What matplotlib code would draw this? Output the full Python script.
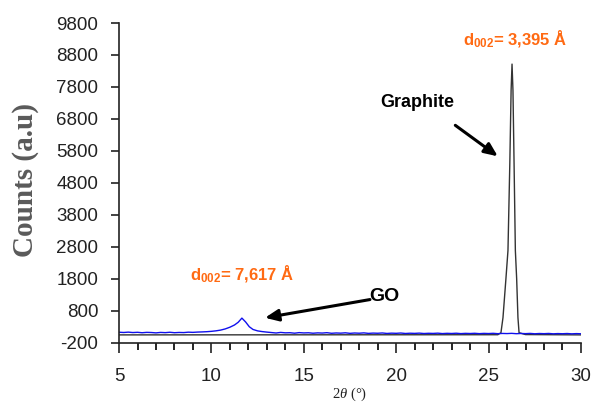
import matplotlib
matplotlib.use("Agg")
import matplotlib.pyplot as plt
from matplotlib.ticker import MultipleLocator

# GO pattern (blue)
go_2theta = [5.0, 5.25, 5.5, 5.75, 6.0, 6.25, 6.5, 6.75, 7.0, 7.25, 7.5, 7.75, 8.0, 8.25,
             8.5, 8.75, 9.0, 9.25, 9.5, 9.75, 10.0, 10.25, 10.5, 10.75, 11.0, 11.25, 11.45,
             11.65, 11.85, 12.05, 12.25, 12.5, 12.75, 13.0, 13.25, 13.5, 13.75, 14.0, 14.25,
             14.5, 14.75, 15.0, 15.25, 15.5, 15.75, 16.0, 16.25, 16.5, 16.75, 17.0, 17.25,
             17.5, 17.75, 18.0, 18.25, 18.5, 18.75, 19.0, 19.25, 19.5, 19.75, 20.0, 20.25,
             20.5, 20.75, 21.0, 21.25, 21.5, 21.75, 22.0, 22.25, 22.5, 22.75, 23.0, 23.25,
             23.5, 23.75, 24.0, 24.25, 24.5, 24.75, 25.0, 25.25, 25.5, 25.75, 26.0, 26.25,
             26.5, 26.75, 27.0, 27.25, 27.5, 27.75, 28.0, 28.25, 28.5, 28.75, 29.0, 29.25,
             29.5, 29.75, 30.0]
go_counts = [128, 120, 131, 118, 126, 112, 124, 119, 108, 122, 115, 127, 113, 121,
             117, 130, 124, 133, 138, 145, 156, 172, 195, 232, 285, 355, 440,
             570, 450, 300, 215, 170, 148, 132, 118, 104, 122, 109, 113,
             98, 116, 106, 111, 97, 108, 102, 114, 95, 105, 99, 110,
             93, 104, 97, 108, 92, 101, 96, 105, 90, 99, 94, 103,
             89, 97, 92, 100, 88, 95, 91, 99, 86, 94, 89, 97,
             85, 93, 88, 95, 84, 92, 87, 94, 83, 90, 86, 93,
             82, 89, 84, 91, 80, 88, 83, 90, 79, 86, 81, 88,
             78, 85, 80]

# Graphite pattern (black)
gr_2theta = [5.0, 25.5, 25.67, 25.78, 25.94, 26.05, 26.15, 26.22, 26.27, 26.32, 26.38,
             26.45, 26.52, 26.59, 26.65, 27.0, 30.0]
gr_counts = [45, 50, 113, 584, 1806, 2684, 5411, 7700, 8515, 7700, 5411,
             2684, 1806, 584, 113, 55, 45]

y_ticks = list(range(-200, 9801, 1000))
x_ticks = [5, 10, 15, 20, 25, 30]

orange = '#FF6A13'
plt.rcParams['axes.unicode_minus'] = False
plt.rcParams['mathtext.fontset'] = 'custom'
plt.rcParams['mathtext.bf'] = 'Liberation Sans:bold'
plt.rcParams['mathtext.rm'] = 'Liberation Sans:bold'
plt.rcParams['mathtext.it'] = 'Liberation Serif:italic'
plt.rcParams['mathtext.default'] = 'bf'

fig = plt.figure(figsize=(5.91, 4.08), dpi=100)
ax = fig.add_axes([0.2014, 0.16, 0.7816, 0.7836])

ax.plot(gr_2theta, gr_counts, color='#333333', lw=1.0)
ax.plot(go_2theta, go_counts, color='#1010ee', lw=1.0)

ax.set_xlim(5, 30)
ax.set_ylim(-200, 9800)
ax.set_yticks(y_ticks)
ax.set_xticks(x_ticks)
ax.xaxis.set_minor_locator(MultipleLocator(1))
for s in ['top', 'right']:
    ax.spines[s].set_visible(False)
for s in ['left', 'bottom']:
    ax.spines[s].set_linewidth(1.2)
    ax.spines[s].set_color('#222222')

ax.tick_params(axis='y', direction='out', length=6, width=1.2, pad=9, colors='#222222')
ax.tick_params(axis='x', which='major', direction='out', length=7, width=1.2, pad=11, colors='#222222')
ax.tick_params(axis='x', which='minor', direction='out', length=5, width=1.2)
for lab in ax.get_xticklabels() + ax.get_yticklabels():
    lab.set_fontfamily(['Liberation Sans'])
    lab.set_fontsize(13.5)

ax.set_xlabel(r'2$\mathit{\theta}$ (°)', fontsize=10.5, color='#222222',
              family=['Liberation Serif'], labelpad=1)
fig.text(0.043, 0.56, 'Counts (a.u)', rotation=90, ha='center', va='center',
         fontsize=21, fontweight='bold', family=['Liberation Serif'], color='#5a5a5a')

ax.text(23.6, 9290, r'd$_{002}$= 3,395 Å', color=orange, fontsize=12,
        fontweight='bold', family=['Liberation Sans'], va='center', ha='left')
ax.text(8.85, 1940, r'd$_{002}$= 7,617 Å', color=orange, fontsize=12,
        fontweight='bold', family=['Liberation Sans'], va='center', ha='left')
ax.text(19.15, 7300, 'Graphite', color='black', fontsize=13, fontweight='bold',
        family=['Liberation Sans'], va='center', ha='left')
ax.text(18.55, 1240, 'GO', color='black', fontsize=14, fontweight='bold',
        family=['Liberation Sans'], va='center', ha='left')

arrow = dict(arrowstyle='-|>,head_length=0.8,head_width=0.35', color='black', lw=2.2,
             shrinkA=0, shrinkB=0)
ax.annotate('', xy=(25.5, 5630), xytext=(23.2, 6600), arrowprops=arrow)
ax.annotate('', xy=(12.9, 580), xytext=(18.58, 1150), arrowprops=arrow)

fig.savefig('out.png', dpi=100)
